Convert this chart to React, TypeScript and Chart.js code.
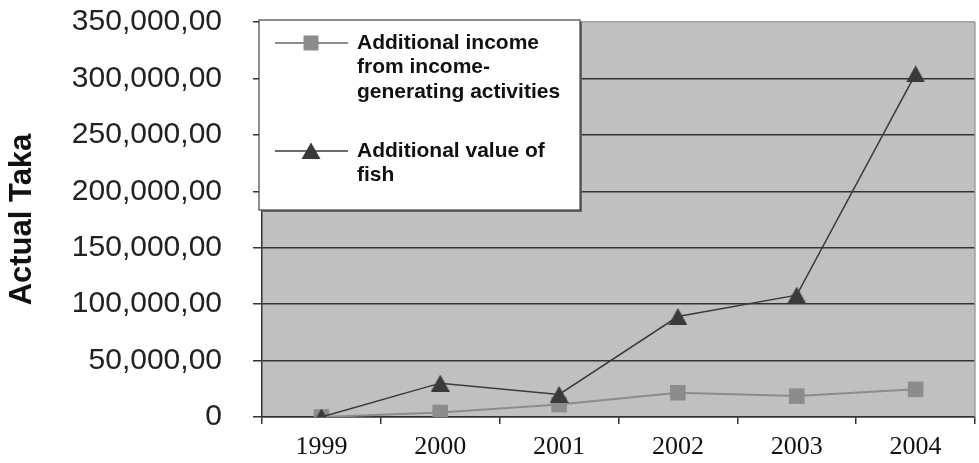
import { useEffect, useRef } from 'react';
import { Chart, registerables } from 'chart.js';

Chart.register(...registerables);

const years = ['1999', '2000', '2001', '2002', '2003', '2004'];
const incomeValues = [0, 4000, 11000, 21500, 18500, 24500];
const fishValues = [0, 30000, 20000, 89000, 108000, 304000];
const incomeLabelLines = ['Additional income', 'from income-', 'generating activities'];
const fishLabelLines = ['Additional value of', 'fish'];
const yAxisTitle = 'Actual Taka';
const yMin = 0;
const yMax = 350000;
const yStep = 50000;

const SANS = '"Liberation Sans", Arial, sans-serif';
const SERIF = '"Liberation Serif", "Times New Roman", serif';
const INCOME_COLOR = '#8c8c8c';
const FISH_COLOR = '#3a3a3a';

function makeTriangle(w: number, h: number, color: string) {
  const c = document.createElement('canvas');
  c.width = w;
  c.height = h;
  const g = c.getContext('2d')!;
  g.fillStyle = color;
  g.beginPath();
  g.moveTo(w / 2, 0);
  g.lineTo(w, h);
  g.lineTo(0, h);
  g.closePath();
  g.fill();
  return c;
}

function formatTick(v: number) {
  if (v === 0) return '0';
  return v.toLocaleString('en-US') + ',00';
}

const plotBgPlugin = {
  id: 'plotBg',
  beforeDraw(chart: any) {
    const { ctx, chartArea } = chart;
    if (!chartArea) return;
    ctx.save();
    ctx.fillStyle = '#c0c0c0';
    ctx.fillRect(chartArea.left, chartArea.top, chartArea.right - chartArea.left, chartArea.bottom - chartArea.top);
    ctx.restore();
  },
  beforeDatasetsDraw(chart: any) {
    const { ctx, chartArea } = chart;
    ctx.save();
    ctx.strokeStyle = '#a0a0a0';
    ctx.lineWidth = 1.5;
    ctx.beginPath();
    ctx.moveTo(chartArea.right, chartArea.top);
    ctx.lineTo(chartArea.right, chartArea.bottom);
    ctx.stroke();
    ctx.restore();
  },
};

const legendBoxPlugin = {
  id: 'legendBox',
  afterDraw(chart: any) {
    const { ctx, chartArea } = chart;
    const bx = chartArea.left - 3;
    const by = chartArea.top - 2;
    const bw = 321;
    const bh = 190;
    ctx.save();
    ctx.fillStyle = '#666';
    ctx.fillRect(bx + 2, by + 2, bw, bh);
    ctx.fillStyle = '#ffffff';
    ctx.fillRect(bx, by, bw, bh);
    ctx.strokeStyle = '#444';
    ctx.lineWidth = 1.2;
    ctx.strokeRect(bx, by, bw, bh);

    const lx0 = bx + 16;
    const lx1 = bx + 89;
    const mx = bx + 52;
    const tx = bx + 98;
    const lineGap = 24.5;

    const y1 = by + 23;
    ctx.strokeStyle = INCOME_COLOR;
    ctx.lineWidth = 2;
    ctx.beginPath();
    ctx.moveTo(lx0, y1);
    ctx.lineTo(lx1, y1);
    ctx.stroke();
    ctx.fillStyle = INCOME_COLOR;
    ctx.fillRect(mx - 7.5, y1 - 7.5, 15, 15);

    const y2 = by + 131;
    ctx.strokeStyle = FISH_COLOR;
    ctx.lineWidth = 1.5;
    ctx.beginPath();
    ctx.moveTo(lx0, y2);
    ctx.lineTo(lx1, y2);
    ctx.stroke();
    ctx.fillStyle = FISH_COLOR;
    ctx.beginPath();
    ctx.moveTo(mx, y2 - 8.5);
    ctx.lineTo(mx + 9.5, y2 + 8);
    ctx.lineTo(mx - 9.5, y2 + 8);
    ctx.closePath();
    ctx.fill();

    ctx.fillStyle = '#111';
    ctx.font = `bold 21px ${SANS}`;
    ctx.textBaseline = 'middle';
    ctx.textAlign = 'left';
    incomeLabelLines.forEach((t, i) => ctx.fillText(t, tx, y1 + i * lineGap));
    fishLabelLines.forEach((t, i) => ctx.fillText(t, tx, y2 + i * lineGap));
    ctx.restore();
  },
};

export default function App() {
  const ref = useRef<HTMLCanvasElement | null>(null);

  useEffect(() => {
    document.body.style.margin = '0';
    const canvas = ref.current!;
    const tri = makeTriangle(19, 17, FISH_COLOR);
    const chart = new Chart(canvas, {
      type: 'line',
      data: {
        labels: years,
        datasets: [
          {
            label: fishLabelLines.join(' '),
            data: fishValues,
            borderColor: FISH_COLOR,
            backgroundColor: FISH_COLOR,
            borderWidth: 1.5,
            pointStyle: tri as any,
            pointRadius: 10,
            order: 0,
          },
          {
            label: incomeLabelLines.join(' '),
            data: incomeValues,
            borderColor: INCOME_COLOR,
            backgroundColor: INCOME_COLOR,
            borderWidth: 2,
            pointStyle: 'rect',
            pointRadius: 11,
            pointBorderWidth: 0,
            order: 1,
          },
        ],
      },
      options: {
        responsive: false,
        animation: false,
        layout: { autoPadding: false, padding: { top: 22, right: 4, left: 0, bottom: 0 } },
        plugins: {
          legend: { display: false },
          tooltip: { enabled: false },
        },
        scales: {
          x: {
            type: 'category',
            offset: true,
            grid: {
              offset: true,
              drawOnChartArea: false,
              drawTicks: true,
              tickLength: 7,
              color: '#333',
              lineWidth: 1.5,
            },
            border: { color: '#333', width: 1.5 },
            ticks: {
              color: '#111',
              font: { family: SERIF, size: 26 },
              padding: 8,
              maxRotation: 0,
            },
            afterFit(scale: any) {
              scale.height = 46;
              scale.paddingLeft = 0;
              scale.paddingRight = 0;
            },
          },
          y: {
            min: yMin,
            max: yMax,
            grid: {
              drawTicks: true,
              tickLength: 9,
              color: (c: any) => (c.tick && c.tick.value === yMax ? '#a0a0a0' : '#333'),
              tickColor: '#333',
              lineWidth: 1.5,
            },
            border: { color: '#333', width: 1.5 },
            ticks: {
              stepSize: yStep,
              color: '#222',
              font: { family: SANS, size: 30 },
              padding: 31,
              callback: (v: any) => formatTick(Number(v)),
            },
            title: {
              display: true,
              text: yAxisTitle,
              color: '#111',
              font: { family: SANS, size: 31, weight: 'bold' },
              padding: { top: 4, bottom: 0 },
            },
            afterFit(scale: any) {
              scale.width = 262;
              scale.paddingTop = 0;
              scale.paddingBottom = 0;
            },
          },
        },
      },
      plugins: [plotBgPlugin, legendBoxPlugin],
    });
    return () => chart.destroy();
  }, []);

  return (
    <div style={{ position: 'absolute', left: 0, top: 0, width: 979, height: 463 }}>
      <canvas ref={ref} width={979} height={463} style={{ display: 'block' }} />
    </div>
  );
}
